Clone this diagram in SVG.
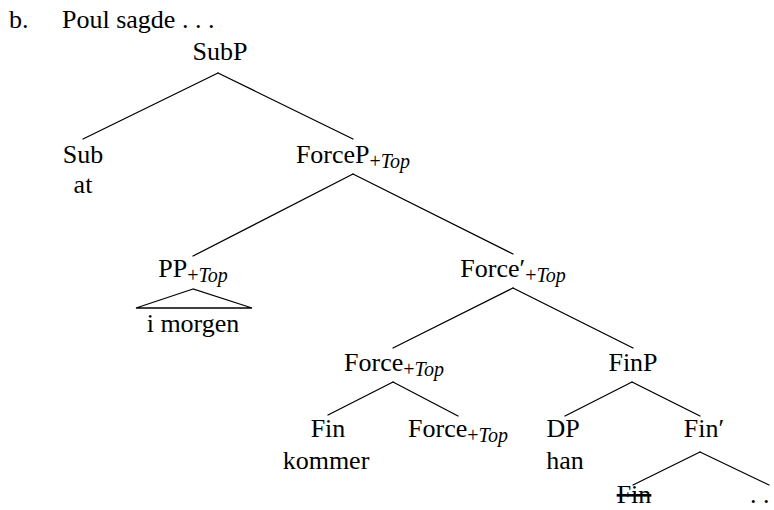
<svg xmlns="http://www.w3.org/2000/svg" width="774" height="510" viewBox="0 0 774 510">
<style>
text{font-family:"Liberation Serif","Times New Roman","DejaVu Serif",serif;font-size:26px;fill:#000}
.c{text-anchor:middle}
.s{font-size:20px}
.i{font-style:italic}
.e{stroke:#000;stroke-width:1.3;fill:none;stroke-linecap:round}
</style>
<rect width="774" height="510" fill="#fff"/>
<g id="heading">
<text x="9" y="28">b.</text>
<text x="62" y="28">Poul sagde . . .</text>
</g>
<g id="connectors" class="e">
<line x1="218" y1="73" x2="83" y2="139"/>
<line x1="218" y1="73" x2="353" y2="139"/>
<line x1="353" y1="174" x2="193" y2="256"/>
<line x1="353" y1="174" x2="513" y2="254"/>
<line x1="513" y1="288" x2="393" y2="348"/>
<line x1="513" y1="288" x2="633" y2="348"/>
<line x1="393" y1="382" x2="328" y2="415"/>
<line x1="393" y1="382" x2="458" y2="416"/>
<line x1="632" y1="382" x2="565" y2="416"/>
<line x1="632" y1="382" x2="700" y2="416"/>
<line x1="700" y1="452" x2="633" y2="485"/>
<line x1="700" y1="452" x2="769" y2="485"/>
</g>
<g id="n-SubP"><text class="c" x="220" y="60">SubP</text></g>
<g id="n-Sub"><text class="c" x="83" y="163">Sub</text><text class="c" x="83" y="193">at</text></g>
<g id="n-ForceP"><text class="c" x="353" y="163">ForceP<tspan class="s" dy="5">+</tspan><tspan class="s i">Top</tspan></text></g>
<g id="n-PP"><text class="c" x="193" y="277">PP<tspan class="s" dy="5">+</tspan><tspan class="s i">Top</tspan></text>
<polygon class="e" points="193,289 136,308 252,308"/>
<text class="c" x="193" y="332">i morgen</text></g>
<g id="n-ForceBar"><text class="c" x="513" y="277">Force′<tspan class="s" dy="5">+</tspan><tspan class="s i">Top</tspan></text></g>
<g id="n-Force"><text class="c" x="394" y="371">Force<tspan class="s" dy="5">+</tspan><tspan class="s i">Top</tspan></text></g>
<g id="n-FinP"><text class="c" x="633" y="371">FinP</text></g>
<g id="n-Fin"><text class="c" x="328" y="437">Fin</text><text class="c" x="326" y="469">kommer</text></g>
<g id="n-Force2"><text class="c" x="458" y="437">Force<tspan class="s" dy="5">+</tspan><tspan class="s i">Top</tspan></text></g>
<g id="n-DP"><text class="c" x="563" y="437">DP</text><text class="c" x="565" y="469">han</text></g>
<g id="n-FinBar"><text class="c" x="704" y="437">Fin′</text></g>
<g id="n-FinDel"><text class="c" x="634" y="503" text-decoration="line-through">Fin</text></g>
<g id="n-dots"><text x="750" y="503">. .</text></g>
</svg>
